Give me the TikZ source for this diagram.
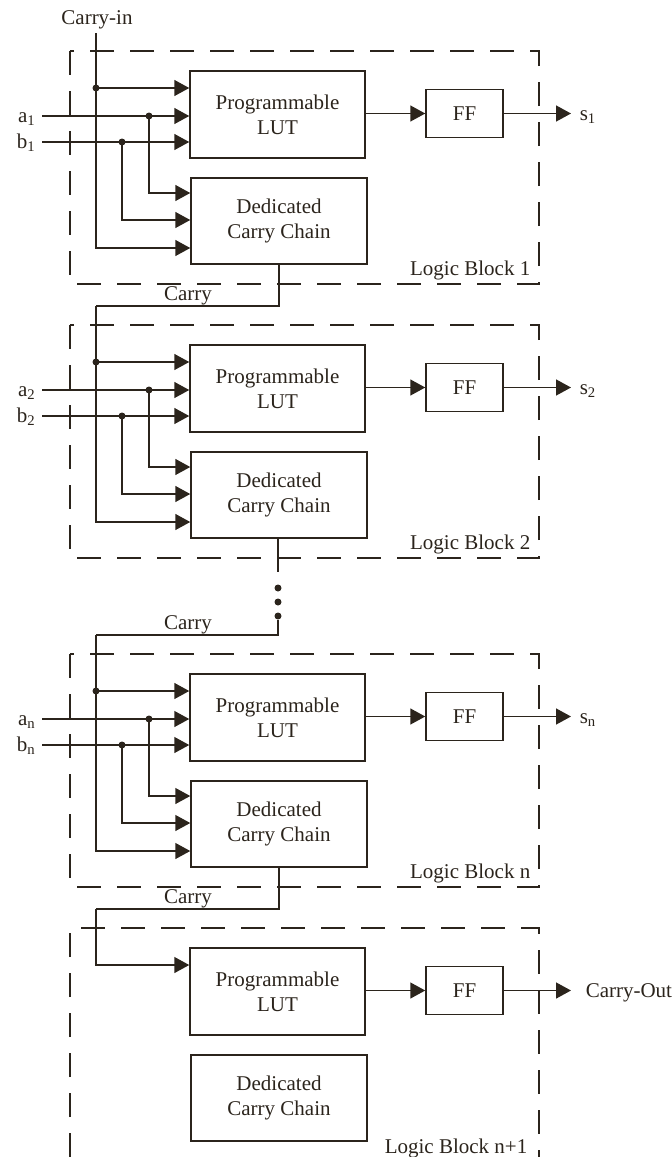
\documentclass[tikz,border=0pt]{standalone}
\usepackage{fontspec}
\setmainfont{Liberation Serif}
\usetikzlibrary{arrows.meta}
\definecolor{ink}{HTML}{2B241C}
\begin{document}
\begin{tikzpicture}[x=1pt,y=-1pt,color=ink,line width=1.5pt,
  font=\fontsize{21}{25}\selectfont,
  lutbox/.style={draw,minimum width=175pt,minimum height=87pt,align=center,inner sep=0pt},
  ccbox/.style={draw,minimum width=176pt,minimum height=86pt,align=center,inner sep=0pt},
  ffbox/.style={draw,minimum width=77pt,minimum height=48pt,inner sep=0pt},
  wire/.style={draw,line width=1.5pt},
  arr/.style={wire,-{Triangle[length=15pt,width=16pt]}},
  jdot/.style={circle,fill,inner sep=0pt,minimum size=7pt},
  frame/.style={draw,line width=1.5pt,dash pattern=on 24pt off 16pt},
  lbl/.style={inner sep=0pt}]
\useasboundingbox (0,0) rectangle (672,1157);

% ---------- three full logic blocks ----------
\foreach \k/\d in {1/0,2/274,n/603}{
  \draw[frame] (70,{51+\d}) rectangle (539,{284+\d});
  \node[lutbox] (lut\k) at (277.5,{114.5+\d}) {Programmable\\LUT};
  \node[ccbox] (cc\k) at (279,{221+\d}) {Dedicated\\Carry Chain};
  \node[ffbox] (ff\k) at (464.5,{113.5+\d}) {FF};
  \coordinate (ain\k) at (42,{116+\d});
  \coordinate (bin\k) at (42,{142+\d});
  \coordinate (ya\k) at (0,{193+\d});
  \coordinate (yb\k) at (0,{220+\d});
  \coordinate (ct\k) at (96,{248+\d});
  \coordinate (sout\k) at (571,{113.5+\d});
  \node[jdot] (cd\k) at (96,{88+\d}) {};
  \node[jdot] (ad\k) at (149,{116+\d}) {};
  \node[jdot] (bd\k) at (122,{142+\d}) {};
  \draw[arr] (cd\k.center) -- (cd\k.center -| lut\k.west);
  \draw[arr] (ain\k) -- (ain\k -| lut\k.west);
  \draw[arr] (bin\k) -- (bin\k -| lut\k.west);
  \draw[arr] (ad\k.center) |- (cc\k.west |- ya\k);
  \draw[arr] (bd\k.center) |- (cc\k.west |- yb\k);
  \draw[arr] (lut\k.east |- ff\k.west) -- (ff\k.west);
  \draw[arr] (ff\k.east) -- (sout\k);
  \node[lbl,anchor=base east] at (36,{122+\d}) {a\textsubscript{\k}};
  \node[lbl,anchor=base east] at (36,{148+\d}) {b\textsubscript{\k}};
  \node[lbl,anchor=base west] at (579,{120+\d}) {s\textsubscript{\k}};
  \node[lbl,anchor=base east] at (531,{275+\d}) {Logic Block \k};
}

% ---------- last logic block n+1 ----------
\draw[frame] (70,1157) -- (70,928) -- (539,928) -- (539,1157);
\node[lutbox] (lutm) at (277.5,991.5) {Programmable\\LUT};
\node[ccbox] (ccm) at (279,1098) {Dedicated\\Carry Chain};
\node[ffbox] (ffm) at (464.5,990.5) {FF};
\coordinate (cout) at (571,990.5);
\coordinate (ym) at (0,965);
\draw[arr] (lutm.east |- ffm.west) -- (ffm.west);
\draw[arr] (ffm.east) -- (cout);
\node[lbl,anchor=base west] at (585,997) {Carry-Out};
\node[lbl,anchor=base east] at (528,1153) {Logic Block n+1};

% ---------- carry chain wiring ----------
\coordinate (cin) at (96,33);
\node[lbl,anchor=base] at (97,24) {Carry-in};
\draw[arr] (cin) |- (cc1.west |- ct1);

\coordinate (cj1) at (96,306);
\draw[wire] (cc1.south) |- (cj1);
\node[lbl,anchor=base] at (188,300) {Carry};
\draw[arr] (cj1) |- (cc2.west |- ct2);

\coordinate (c2e) at (278,572);
\draw[wire] (cc2.south -| c2e) -- (c2e);
\node[jdot] (v1) at (278,588) {};
\node[jdot] (v2) at (278,602) {};
\node[jdot] (v3) at (278,616) {};
\coordinate (c3s) at (278,620);
\coordinate (cj2) at (96,635);
\draw[wire] (c3s) |- (cj2);
\node[lbl,anchor=base] at (188,629) {Carry};
\draw[arr] (cj2) |- (ccn.west |- ctn);

\coordinate (cjn) at (96,909);
\draw[wire] (ccn.south) |- (cjn);
\node[lbl,anchor=base] at (188,903) {Carry};
\draw[arr] (cjn) |- (lutm.west |- ym);
\end{tikzpicture}
\end{document}
